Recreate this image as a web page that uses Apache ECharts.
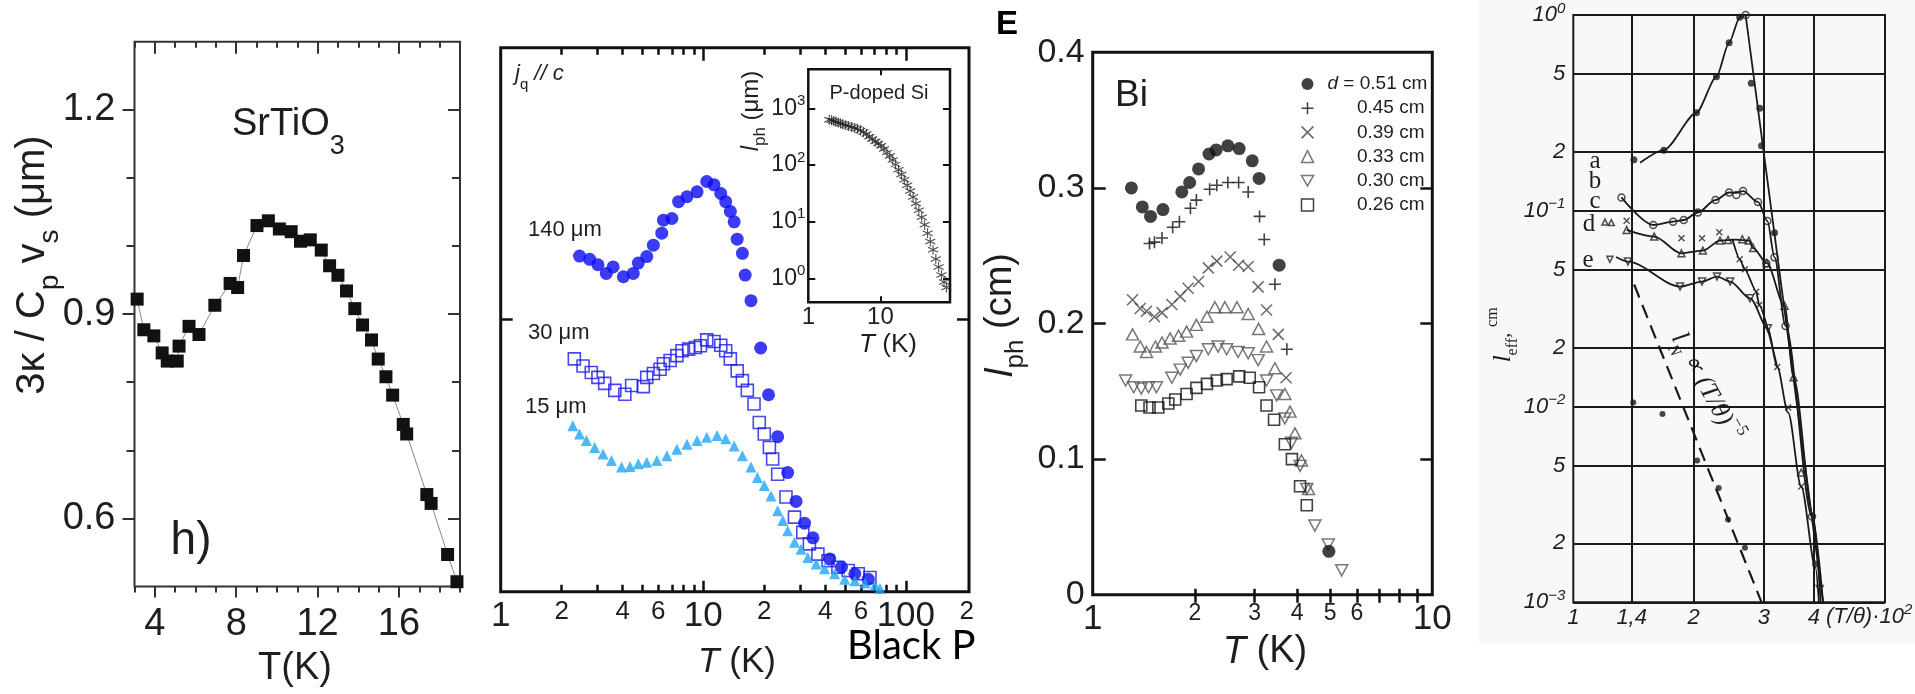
<!DOCTYPE html>
<html><head><meta charset="utf-8">
<script src="https://cdn.jsdelivr.net/npm/echarts@6.0.0/dist/echarts.min.js"></script>
<style>html,body{margin:0;padding:0;background:#fff}#c{width:1915px;height:694px}</style>
</head><body><div id="c"></div>
<script>
// ---------- Panel 1: SrTiO3 ----------
const p1T = [3.13,3.46,3.95,4.36,4.61,5.10,5.19,5.68,6.17,6.95,7.70,8.07,8.36,9.02,9.58,10.12,10.70,11.16,11.64,12.18,12.59,13.00,13.42,13.83,14.21,14.65,14.98,15.36,15.69,16.21,16.38,17.37,17.58,18.39,18.85];
const p1L = [0.922,0.877,0.868,0.843,0.831,0.831,0.853,0.882,0.870,0.913,0.945,0.939,0.986,1.030,1.037,1.025,1.021,1.007,1.009,0.994,0.971,0.957,0.934,0.908,0.884,0.862,0.834,0.808,0.781,0.738,0.724,0.635,0.622,0.547,0.507];
const p1XLabels = [4,8,12,16];
const p1XMinor = [3,5,6,7,9,10,11,13,14,15,17,18,19];
const p1YLabels = [0.6,0.9,1.2];
const p1YMinor = [0.7,0.8,1.0,1.1];

// ---------- Panel 2: Black P ----------
const bp140T = [2.45,2.75,3.02,3.32,3.59,4.03,4.51,4.78,5.26,5.67,6.24,6.36,7.00,7.55,8.31,9.32,10.4,11.3,12.2,12.9,13.6,14.2,14.7,15.6,16.1,17.2,19.2,21.0,23.3,26.1,28.7,31.6,34.8,42.1,48.1,56.0,65.2];
const bp140L = [0.617,0.611,0.601,0.585,0.597,0.579,0.585,0.604,0.616,0.637,0.659,0.683,0.686,0.717,0.726,0.735,0.754,0.748,0.732,0.717,0.699,0.680,0.648,0.622,0.582,0.535,0.448,0.362,0.285,0.219,0.166,0.126,0.099,0.060,0.045,0.033,0.023];
const bp30T = [2.31,2.55,2.80,3.02,3.26,3.66,4.10,4.43,5.06,5.26,5.67,6.12,6.36,6.86,7.41,7.85,8.47,9.14,9.68,10.4,11.3,12.2,12.9,13.6,14.7,15.6,16.5,17.8,18.9,20.0,21.2,22.0,23.3,25.6,28.2,31.0,33.4,36.8,41.3,46.2,51.9,58.2,66.5];
const bp30L = [0.428,0.415,0.403,0.394,0.383,0.370,0.363,0.379,0.377,0.394,0.401,0.409,0.419,0.425,0.434,0.443,0.446,0.449,0.452,0.463,0.460,0.453,0.443,0.428,0.406,0.388,0.370,0.345,0.311,0.290,0.265,0.244,0.216,0.174,0.137,0.109,0.088,0.069,0.057,0.045,0.039,0.033,0.026];
const bp15T = [2.27,2.45,2.65,2.91,3.20,3.52,3.95,4.35,4.78,5.26,5.90,6.61,7.41,8.31,9.32,10.4,11.7,12.9,14.2,15.6,17.2,18.5,20.0,21.6,23.3,24.7,26.1,28.2,30.4,32.8,36.1,39.7,44.5,49.9,56.0,62.8,70.4,74.5];
const bp15L = [0.305,0.290,0.278,0.265,0.253,0.241,0.229,0.230,0.235,0.238,0.241,0.250,0.262,0.271,0.278,0.284,0.287,0.281,0.268,0.250,0.229,0.210,0.195,0.176,0.149,0.131,0.112,0.091,0.078,0.063,0.051,0.042,0.033,0.023,0.020,0.016,0.012,0.006];
const p2XLabels = [1,2,4,6,10,20,40,60,100,200];
const p2XMajor = [10,100];
const p2XMinor = [2,3,4,5,6,7,8,9,20,30,40,50,60,70,80,90];
const p2YTicks = [0.5];

// ---------- Inset: P-doped Si ----------
const siT = [1.95,2.1,2.25,2.4,2.6,2.8,3.0,3.3,3.6,4.0,4.4,4.8,5.3,5.8,6.4,7.0,7.7,8.5,9.3,10.2,11.2,12.3,13.5,14.8,16.2,17.8,19.5,21.4,23.5,25.8,28.3,31.0,34.0,37.3,41.0,45.0,49.0,53.5,58.5,64.0,70.0,76.0,82.0];
const siL = [630,617,600,582,562,543,525,507,490,468,452,436,407,385,355,316,288,260,240,219,193,166,145,123,102,83,68,55,44,35,27.5,21,16,12,8.9,6.3,4.5,3.2,2.2,1.6,1.15,0.87,0.69];
const siXLabels = [1,10];
const siYLabels = [1,10,100,1000];

// ---------- Panel 3: Bi ----------
const bi051T = [1.30,1.40,1.48,1.61,1.83,1.93,2.05,2.20,2.31,2.50,2.70,2.95,3.09,3.54,4.96];
const bi051L = [0.300,0.286,0.279,0.284,0.297,0.304,0.314,0.325,0.328,0.331,0.329,0.320,0.307,0.243,0.032];
const bi045T = [1.47,1.52,1.60,1.72,1.80,1.94,2.02,2.21,2.32,2.50,2.69,2.87,3.10,3.20,3.44,3.73];
const bi045L = [0.259,0.260,0.263,0.271,0.275,0.285,0.291,0.299,0.302,0.304,0.304,0.297,0.279,0.262,0.229,0.181];
const bi039T = [1.31,1.38,1.44,1.52,1.60,1.71,1.81,1.91,2.05,2.19,2.32,2.54,2.69,2.87,3.07,3.25,3.52,3.71];
const bi039L = [0.2175,0.211,0.209,0.205,0.208,0.214,0.220,0.226,0.231,0.241,0.246,0.249,0.243,0.242,0.227,0.210,0.192,0.160];
const bi033T = [1.31,1.38,1.44,1.53,1.60,1.69,1.79,1.89,2.02,2.17,2.29,2.45,2.66,2.87,3.08,3.25,3.44,3.68,3.81,3.94,4.12,4.32];
const bi033L = [0.192,0.183,0.179,0.183,0.186,0.189,0.191,0.194,0.199,0.205,0.212,0.212,0.212,0.207,0.196,0.183,0.167,0.148,0.135,0.119,0.099,0.078];
const bi030T = [1.25,1.32,1.39,1.46,1.54,1.71,1.81,1.91,2.02,2.19,2.34,2.48,2.68,2.87,3.07,3.25,3.48,3.68,3.85,4.08,4.27,4.51,4.94,5.41];
const bi030L = [0.158,0.153,0.152,0.153,0.153,0.160,0.166,0.171,0.176,0.181,0.183,0.181,0.179,0.178,0.173,0.158,0.147,0.130,0.112,0.095,0.078,0.051,0.037,0.018];
const bi026T = [1.39,1.47,1.56,1.67,1.75,1.89,2.02,2.17,2.32,2.48,2.70,2.90,3.09,3.25,3.42,3.68,3.86,4.08,4.27];
const bi026L = [0.1395,0.138,0.138,0.141,0.144,0.148,0.1525,0.1555,0.158,0.159,0.161,0.160,0.153,0.1395,0.129,0.111,0.100,0.080,0.066];
const biNames = ['0.51 cm','0.45 cm','0.39 cm','0.33 cm','0.30 cm','0.26 cm'];
const p3XLabels = [1,2,3,4,5,6,10];
const p3XTicks = [2,3,4,5,6,7,8,9];
const p3YLabels = [0,0.1,0.2,0.3,0.4];
const p3YTicks = [0.1,0.2,0.3];

// ---------- Panel 4: l_eff vs T/theta ----------
const aRiseT = [1.47,1.685,2.034,2.282,2.455,2.61,2.70];
const aRiseL = [0.176,0.204,0.317,0.484,0.722,0.973,1.0];
const aFallT = [2.70,4.22];
const aFallL = [1.0,0.001];
const aDotT = [1.418,1.685,2.034,2.282,2.455,2.61,2.79,2.93,2.96,3.19,4.04];
const aDotL = [0.182,0.204,0.317,0.484,0.722,0.973,0.448,0.334,0.215,0.0773,0.00157];
const openT = [2.70,1.32,1.585,1.778,1.89,2.05,2.27,2.455,2.56,2.66,2.90,3.06,3.04,3.19,3.40,3.96];
const openL = [1.0,0.117,0.0846,0.088,0.0897,0.098,0.1135,0.124,0.1205,0.126,0.111,0.0887,0.054,0.0578,0.0258,0.00274];
const cLineT = [1.32,1.585,1.778,1.89,2.05,2.27,2.455,2.56,2.66,2.90,3.06,3.19,3.40,3.96,4.22];
const cLineL = [0.117,0.0846,0.088,0.0897,0.098,0.1135,0.124,0.1235,0.126,0.111,0.0887,0.0578,0.0258,0.00274,0.001];
const dTriT = [1.36,1.594,1.865,2.11,2.33,2.44,2.65,2.75,2.82,3.05,3.38,3.56,3.72];
const dTriL = [0.0798,0.0738,0.0606,0.0626,0.0704,0.071,0.0715,0.0704,0.0645,0.054,0.0327,0.0141,0.0046];
const dLineT = [1.36,1.594,1.865,2.11,2.33,2.55,2.75,2.82,3.05,3.38,3.56,3.98,4.16];
const dLineL = [0.0798,0.0738,0.0606,0.0626,0.0704,0.0712,0.0704,0.0645,0.054,0.0327,0.0141,0.0028,0.001];
const eTriT = [1.37,1.85,2.10,2.29,2.47,2.77,3.07,4.14];
const eTriL = [0.055,0.041,0.0435,0.0461,0.0435,0.0357,0.0251,0.00117];
const eLineT = [1.28,1.37,1.85,2.10,2.29,2.47,2.77,3.07,3.24,3.45,3.72,4.04,4.12];
const eLineL = [0.058,0.055,0.041,0.0435,0.0461,0.0435,0.0357,0.0251,0.0159,0.0093,0.0039,0.0015,0.001];
const xMarkT = [1.36,1.865,2.10,2.32,2.61,2.69,2.87,2.92,3.24,3.45,3.72];
const xMarkL = [0.089,0.0723,0.0723,0.0776,0.0565,0.0502,0.0386,0.033,0.0159,0.0099,0.0039];
const xLineT = [2.50,2.61,2.69,2.87,2.92,3.24];
const xLineL = [0.072,0.0565,0.0502,0.0386,0.033,0.0159];
const dashT = [1.42,2.96];
const dashL = [0.042,0.001];
const lowDotT = [1.413,1.672,2.042,2.312,2.44,2.69];
const lowDotL = [0.0105,0.00917,0.0053,0.00384,0.00265,0.0019];
const keyTriT = [1.20,1.245];
const keyTriL = [0.0875,0.0870];
const keyDownT = [1.235];
const keyDownL = [0.0565];
const p4XLabels = [1,1.4,2,3,4];
const p4XGrid = [1.4,2,3,4];
const p4YLabels = [0.001,0.002,0.005,0.01,0.02,0.05,0.1,0.2,0.5,1];
const p4CurveLabels = ['a','b','c','d','e'];

// ---------- helpers ----------
const F = '"Liberation Sans", Arial, sans-serif';
const FSERIF = '"Liberation Serif", "Times New Roman", serif';
const INK = '#1e1e1e';
const zip = (a, b) => a.map((v, i) => [v, b[i]]);
const PLUS = 'path://M0,-10L0,10M-10,0L10,0';
const CROSS = 'path://M-10,-10L10,10M-10,10L10,-10';
const DOWN = 'path://M0,0L20,0L10,17.3Z';
const STAR = 'path://M0,-10L0,10M-8.66,-5L8.66,5M-8.66,5L8.66,-5';
function tick(vals, len, inside, color, width) {
  return {show: true, inside: inside, length: len, customValues: vals, lineStyle: {color: color, width: width}};
}
function axis(o) {
  return Object.assign({axisLine: {show: false}, splitLine: {show: false}, axisLabel: {show: false}, axisTick: {show: false}}, o);
}
const supRich = (fs, sfs, lh, italic, fam) => ({
  b: {fontSize: fs, lineHeight: lh, fontFamily: fam || F, fontStyle: italic ? 'italic' : 'normal', color: INK},
  s: {fontSize: sfs, lineHeight: sfs, verticalAlign: 'top', fontFamily: fam || F, fontStyle: italic ? 'italic' : 'normal', color: INK}
});
const r3 = v => +(+v).toPrecision(3);

const xAxis = [
  // 0-3 panel 1
  axis({gridIndex: 0, type: 'value', position: 'bottom', min: 3, max: 19,
    axisTick: tick(p1XLabels, 11, false, '#333', 2),
    axisLabel: {show: true, customValues: p1XLabels, margin: 19, fontSize: 38, fontFamily: F, color: INK}}),
  axis({gridIndex: 0, type: 'value', position: 'bottom', min: 3, max: 19, axisTick: tick(p1XMinor, 6, false, '#333', 2)}),
  axis({gridIndex: 0, type: 'value', position: 'top', min: 3, max: 19, axisTick: tick(p1XLabels, 12, true, '#333', 2)}),
  axis({gridIndex: 0, type: 'value', position: 'top', min: 3, max: 19, axisTick: tick(p1XMinor, 6, true, '#333', 2)}),
  // 4-7 panel 2
  axis({gridIndex: 1, type: 'log', position: 'bottom', min: 1, max: 205,
    axisTick: tick(p2XMajor, 11, true, '#111', 2.5),
    axisLabel: {show: true, customValues: p2XLabels, margin: 7,
      formatter: v => { const r = Math.round(v); return (r === 1 || r === 10 || r === 100) ? '{M|' + r + '}' : '{m|' + String(r).charAt(0) + '}'; },
      rich: {M: {fontSize: 35, fontFamily: F, color: INK}, m: {fontSize: 26, fontFamily: F, color: INK}}}}),
  axis({gridIndex: 1, type: 'log', position: 'bottom', min: 1, max: 205, axisTick: tick(p2XMinor, 7, true, '#111', 2.5)}),
  axis({gridIndex: 1, type: 'log', position: 'top', min: 1, max: 205, axisTick: tick(p2XMajor, 13, true, '#111', 2.5)}),
  axis({gridIndex: 1, type: 'log', position: 'top', min: 1, max: 205, axisTick: tick(p2XMinor, 7, true, '#111', 2.5)}),
  // 8-9 inset
  axis({gridIndex: 2, type: 'log', position: 'bottom', min: 1, max: 92,
    axisTick: tick([10], 6, true, '#111', 2),
    axisLabel: {show: true, customValues: siXLabels, margin: 3, fontSize: 24, fontFamily: F, color: INK, formatter: v => String(Math.round(v))}}),
  axis({gridIndex: 2, type: 'log', position: 'top', min: 1, max: 92, axisTick: tick([10], 6, true, '#111', 2)}),
  // 10-11 panel 3
  axis({gridIndex: 3, type: 'log', position: 'bottom', min: 1, max: 10,
    axisTick: tick(p3XTicks, 6, true, '#111', 2.5),
    axisLabel: {show: true, customValues: p3XLabels, margin: 7,
      formatter: v => { const r = Math.round(v); return (r === 1 || r === 10) ? '{M|' + r + '}' : '{m|' + r + '}'; },
      rich: {M: {fontSize: 35, fontFamily: F, color: INK}, m: {fontSize: 23, fontFamily: F, color: INK}}}}),
  axis({gridIndex: 3, type: 'log', position: 'top', min: 1, max: 10, axisTick: tick(p3XTicks, 8, true, '#111', 2.5)}),
  // 12 panel 4
  axis({gridIndex: 4, type: 'log', position: 'bottom', min: 1, max: 6.03,
    axisTick: {show: false, customValues: p4XGrid},
    splitLine: {show: true, lineStyle: {color: '#1a1a1a', width: 2}},
    axisLabel: {show: true, customValues: p4XLabels, margin: 5, fontSize: 22, fontStyle: 'italic', fontFamily: F, color: INK,
      formatter: v => String(r3(v)).replace('.', ',')}})
];

const yAxis = [
  // 0-3 panel 1
  axis({gridIndex: 0, type: 'value', position: 'left', min: 0.5, max: 1.3,
    axisTick: tick(p1YLabels, 12, false, '#333', 2),
    axisLabel: {show: true, customValues: p1YLabels, margin: 19, fontSize: 38, fontFamily: F, color: INK, formatter: v => (+v).toFixed(1)}}),
  axis({gridIndex: 0, type: 'value', position: 'left', min: 0.5, max: 1.3, axisTick: tick(p1YMinor, 8, false, '#333', 2)}),
  axis({gridIndex: 0, type: 'value', position: 'right', min: 0.5, max: 1.3, axisTick: tick(p1YLabels, 12, true, '#333', 2)}),
  axis({gridIndex: 0, type: 'value', position: 'right', min: 0.5, max: 1.3, axisTick: tick(p1YMinor, 8, true, '#333', 2)}),
  // 4-5 panel 2
  axis({gridIndex: 1, type: 'value', position: 'left', min: 0, max: 1, axisTick: tick(p2YTicks, 12, true, '#111', 2.5)}),
  axis({gridIndex: 1, type: 'value', position: 'right', min: 0, max: 1, axisTick: tick(p2YTicks, 12, true, '#111', 2.5)}),
  // 6-7 inset
  axis({gridIndex: 2, type: 'log', position: 'left', min: 0.38, max: 4900,
    axisTick: tick(siYLabels, 7, true, '#111', 2),
    axisLabel: {show: true, customValues: siYLabels, margin: 3,
      formatter: v => '{b|10}{s|' + Math.round(Math.log10(v)) + '}', rich: supRich(23, 15, 30, false)}}),
  axis({gridIndex: 2, type: 'log', position: 'right', min: 0.38, max: 4900, axisTick: tick(siYLabels, 7, true, '#111', 2)}),
  // 8-9 panel 3
  axis({gridIndex: 3, type: 'value', position: 'left', min: 0, max: 0.4,
    axisTick: tick(p3YTicks, 13, true, '#111', 2.5),
    axisLabel: {show: true, customValues: p3YLabels, margin: 8, fontSize: 34, fontFamily: F, color: INK,
      formatter: v => (Math.abs(v) < 1e-9 ? '0' : (+v).toFixed(1))}}),
  axis({gridIndex: 3, type: 'value', position: 'right', min: 0, max: 0.4, axisTick: tick(p3YTicks, 12, true, '#111', 2.5)}),
  // 10 panel 4
  axis({gridIndex: 4, type: 'log', position: 'left', min: 0.001, max: 1,
    axisTick: {show: false, customValues: p4YLabels},
    splitLine: {show: true, lineStyle: {color: '#1a1a1a', width: 2}},
    axisLabel: {show: true, customValues: p4YLabels, margin: 8,
      formatter: v => {
        const e = Math.floor(Math.log10(v) + 1e-9);
        const m = Math.round(v / Math.pow(10, e));
        if (m === 1) return '{b|10}{s|' + (e === 0 ? '0' : '\u2212' + (-e)) + '}';
        return '{b|' + m + '}';
      },
      rich: supRich(22, 15, 28, true)}})
];

const grid = [
  {left: 134.5, top: 41.7, width: 325.5, height: 544.8, show: true, borderColor: '#333', borderWidth: 2, outerBoundsMode: 'none'},
  {left: 500.7, top: 47.7, width: 468.3, height: 544, show: true, borderColor: '#111', borderWidth: 3, outerBoundsMode: 'none'},
  {left: 808.3, top: 69.3, width: 141.7, height: 233, show: true, borderColor: '#111', borderWidth: 2.5, backgroundColor: '#fff', outerBoundsMode: 'none'},
  {left: 1092.7, top: 52.3, width: 339.6, height: 542.4, show: true, borderColor: '#111', borderWidth: 3, outerBoundsMode: 'none'},
  {left: 1573.3, top: 15, width: 311.7, height: 587.3, show: true, borderColor: '#1a1a1a', borderWidth: 2, outerBoundsMode: 'none'}
];

const p4Line = (t, l, extra) => Object.assign({type: 'line', xAxisIndex: 12, yAxisIndex: 10, data: zip(t, l), symbol: 'none',
  lineStyle: {color: '#1a1a1a', width: 1.8}, z: 3}, extra || {});
const p4Mark = (t, l, symbol, size, style, clip) => ({type: 'scatter', xAxisIndex: 12, yAxisIndex: 10, data: zip(t, l),
  symbol: symbol, symbolSize: size, itemStyle: style, z: 5, clip: clip !== false});
const openStyle = c => ({color: 'none', borderColor: c, borderWidth: 1.5});

const series = [
  // panel 1
  {type: 'line', xAxisIndex: 0, yAxisIndex: 0, data: zip(p1T, p1L), symbol: 'rect', symbolSize: 13,
    lineStyle: {color: '#8a8a8a', width: 1}, itemStyle: {color: '#111'}, z: 3},
  // panel 2
  {type: 'scatter', xAxisIndex: 4, yAxisIndex: 4, data: zip(bp140T, bp140L), symbol: 'circle', symbolSize: 13, itemStyle: {color: '#0a0af2'}, z: 3},
  {type: 'scatter', xAxisIndex: 4, yAxisIndex: 4, data: zip(bp30T, bp30L), symbol: 'rect', symbolSize: 12, itemStyle: {color: 'none', borderColor: '#1a1ae8', borderWidth: 1.6}, z: 4},
  {type: 'scatter', xAxisIndex: 4, yAxisIndex: 4, data: zip(bp15T, bp15L), symbol: 'triangle', symbolSize: 11, itemStyle: {color: '#1fa6f5'}, z: 5},
  // inset
  {type: 'scatter', xAxisIndex: 8, yAxisIndex: 6, data: zip(siT, siL), symbol: STAR, symbolSize: 10, itemStyle: {color: 'none', borderColor: '#222', borderWidth: 1.1}, z: 5},
  // panel 3
  {name: biNames[0], type: 'scatter', xAxisIndex: 10, yAxisIndex: 8, data: zip(bi051T, bi051L), symbol: 'circle', symbolSize: 13, itemStyle: {color: '#111'}, z: 6},
  {name: biNames[1], type: 'scatter', xAxisIndex: 10, yAxisIndex: 8, data: zip(bi045T, bi045L), symbol: PLUS, symbolSize: 12, itemStyle: {color: 'none', borderColor: '#111', borderWidth: 1.6}, z: 5},
  {name: biNames[2], type: 'scatter', xAxisIndex: 10, yAxisIndex: 8, data: zip(bi039T, bi039L), symbol: CROSS, symbolSize: 11, itemStyle: {color: 'none', borderColor: '#444', borderWidth: 1.5}, z: 5},
  {name: biNames[3], type: 'scatter', xAxisIndex: 10, yAxisIndex: 8, data: zip(bi033T, bi033L), symbol: 'triangle', symbolSize: [12, 11], itemStyle: {color: 'none', borderColor: '#555', borderWidth: 1.5}, z: 5},
  {name: biNames[4], type: 'scatter', xAxisIndex: 10, yAxisIndex: 8, data: zip(bi030T, bi030L), symbol: DOWN, symbolSize: [12, 11], itemStyle: {color: 'none', borderColor: '#555', borderWidth: 1.5}, z: 5},
  {name: biNames[5], type: 'scatter', xAxisIndex: 10, yAxisIndex: 8, data: zip(bi026T, bi026L), symbol: 'rect', symbolSize: 11, itemStyle: {color: 'none', borderColor: '#111', borderWidth: 1.6}, z: 5},
  // panel 4
  p4Line(aRiseT, aRiseL, {smooth: 0.25, smoothMonotone: 'x'}),
  p4Line(aFallT, aFallL),
  p4Line(cLineT, cLineL, {smooth: 0.3, smoothMonotone: 'x'}),
  p4Line(dLineT, dLineL, {smooth: 0.3, smoothMonotone: 'x'}),
  p4Line(eLineT, eLineL, {smooth: 0.3, smoothMonotone: 'x'}),
  p4Line(xLineT, xLineL, {smooth: 0.2, smoothMonotone: 'x'}),
  p4Line(dashT, dashL, {lineStyle: {color: '#1a1a1a', width: 2.2, type: [14, 8]}}),
  p4Mark(aDotT, aDotL, 'circle', 7, {color: '#1a1a1a'}),
  p4Mark(lowDotT, lowDotL, 'circle', 6, {color: '#1a1a1a'}),
  p4Mark(openT, openL, 'circle', 7, openStyle('#222'), false),
  p4Mark(dTriT, dTriL, 'triangle', 7, openStyle('#222')),
  p4Mark(eTriT, eTriL, DOWN, 7, openStyle('#222')),
  p4Mark(xMarkT, xMarkL, CROSS, 6, {color: 'none', borderColor: '#222', borderWidth: 1.4}),
  p4Mark(keyTriT, keyTriL, 'triangle', 6, openStyle('#222')),
  p4Mark(keyDownT, keyDownL, DOWN, 6, openStyle('#222'))
];

const T = (x, y, text, o) => Object.assign({type: 'text', x: x, y: y, z: 20,
  style: Object.assign({text: text, fill: INK, font: '22px ' + F, align: 'center', verticalAlign: 'middle',
    textAlign: 'center', textVerticalAlign: 'middle'}, (o && o.style) || {})}, o ? {rotation: o.rotation || 0} : {});

const graphic = [
  {type: 'rect', z: -10, shape: {x: 1478, y: 0, width: 437, height: 643}, style: {fill: '#f8f8f8'}},
  // panel 1
  T(33, 265, '{n|3\u03ba / C}{s|p}{n| v}{s|s}{n| (\u03bcm)}', {rotation: Math.PI / 2, style: {rich: {
    n: {fontSize: 40, lineHeight: 62, fontFamily: F, fill: INK}, s: {fontSize: 28, lineHeight: 28, verticalAlign: 'bottom', fontFamily: F, fill: INK}}}}),
  T(232, 125, '{n|SrTiO}{s|3}', {style: {align: 'left', textAlign: 'left', rich: {
    n: {fontSize: 38, lineHeight: 70, fontFamily: F, fill: INK}, s: {fontSize: 27, lineHeight: 27, verticalAlign: 'bottom', fontFamily: F, fill: INK}}}}),
  T(191, 541, 'h)', {style: {font: '46px ' + F}}),
  T(295, 669, 'T(K)', {style: {font: '38px ' + F}}),
  // panel 2
  T(515, 74, '{i|j}{q|q}{i| // c}', {style: {align: 'left', textAlign: 'left', rich: {
    i: {fontSize: 22, lineHeight: 36, fontStyle: 'italic', fontFamily: F, fill: INK}, q: {fontSize: 15, lineHeight: 16, verticalAlign: 'bottom', fontFamily: F, fill: INK}}}}),
  T(528, 230, '140 \u03bcm', {style: {align: 'left', textAlign: 'left', font: '22px ' + F}}),
  T(528, 333, '30 \u03bcm', {style: {align: 'left', textAlign: 'left', font: '22px ' + F}}),
  T(525, 407, '15 \u03bcm', {style: {align: 'left', textAlign: 'left', font: '22px ' + F}}),
  T(737, 662, '{i|T}{n| (K)}', {style: {rich: {i: {fontSize: 35, fontStyle: 'italic', fontFamily: F, fill: INK}, n: {fontSize: 35, fontFamily: F, fill: INK}}}}),
  T(847, 646, 'Black P', {style: {align: 'left', textAlign: 'left', font: '40px Lato, "Open Sans", sans-serif', fill: '#000'}}),
  T(879, 93, 'P-doped Si', {style: {font: '20px ' + F}}),
  T(888, 345, '{i|T}{n| (K)}', {style: {rich: {i: {fontSize: 26, fontStyle: 'italic', fontFamily: F, fill: INK}, n: {fontSize: 26, fontFamily: F, fill: INK}}}}),
  T(751, 111, '{i|l}{s|ph}{n| (\u03bcm)}', {rotation: Math.PI / 2, style: {rich: {
    i: {fontSize: 24, lineHeight: 36, fontStyle: 'italic', fontFamily: F, fill: INK}, s: {fontSize: 17, lineHeight: 17, verticalAlign: 'bottom', fontFamily: F, fill: INK},
    n: {fontSize: 24, lineHeight: 36, fontFamily: F, fill: INK}}}}),
  // panel 3
  T(1007, 25, 'E', {style: {font: 'bold 33px ' + F, fill: '#000'}}),
  T(1115, 96, 'Bi', {style: {align: 'left', textAlign: 'left', font: '37px ' + F}}),
  T(1265, 652, '{i|T}{n| (K)}', {style: {rich: {i: {fontSize: 38, fontStyle: 'italic', fontFamily: F, fill: INK}, n: {fontSize: 38, fontFamily: F, fill: INK}}}}),
  T(1001, 315, '{i|l}{s|ph}{n| (cm)}', {rotation: Math.PI / 2, style: {rich: {
    i: {fontSize: 38, lineHeight: 56, fontStyle: 'italic', fontFamily: F, fill: INK}, s: {fontSize: 26, lineHeight: 26, verticalAlign: 'bottom', fontFamily: F, fill: INK},
    n: {fontSize: 38, lineHeight: 56, fontFamily: F, fill: INK}}}}),
  // panel 4
  T(1503, 335, '{i|l}{s|eff}{n|, }{u|cm}', {rotation: Math.PI / 2, style: {rich: {
    i: {fontSize: 26, lineHeight: 36, fontStyle: 'italic', fontFamily: FSERIF, fill: INK}, s: {fontSize: 16, lineHeight: 16, verticalAlign: 'bottom', fontFamily: FSERIF, fill: INK},
    n: {fontSize: 22, lineHeight: 36, fontFamily: FSERIF, fill: INK}, u: {fontSize: 16, lineHeight: 16, verticalAlign: 'top', fontFamily: FSERIF, fill: INK}}}}),
  T(1595, 161, p4CurveLabels[0], {style: {font: '25px ' + FSERIF}}),
  T(1595, 181, p4CurveLabels[1], {style: {font: '25px ' + FSERIF}}),
  T(1595, 201, p4CurveLabels[2], {style: {font: '25px ' + FSERIF}}),
  T(1589, 224, p4CurveLabels[3], {style: {font: '25px ' + FSERIF}}),
  T(1588, 260, p4CurveLabels[4], {style: {font: '25px ' + FSERIF}}),
  T(1826, 617, '{n|(T/\u03b8)\u00b710}{s|2}', {style: {align: 'left', textAlign: 'left', rich: {
    n: {fontSize: 22, lineHeight: 30, fontStyle: 'italic', fontFamily: F, fill: INK}, s: {fontSize: 15, lineHeight: 15, verticalAlign: 'top', fontStyle: 'italic', fontFamily: F, fill: INK}}}}),
  T(1706, 387, '{i|l}{s|N}{n| \u221d (T/\u03b8)}{u|\u22125}', {rotation: -1.07, style: {rich: {
    i: {fontSize: 26, lineHeight: 38, fontStyle: 'italic', fontFamily: FSERIF, fill: INK}, s: {fontSize: 16, lineHeight: 16, verticalAlign: 'bottom', fontStyle: 'italic', fontFamily: FSERIF, fill: INK},
    n: {fontSize: 26, lineHeight: 38, fontStyle: 'italic', fontFamily: FSERIF, fill: INK}, u: {fontSize: 17, lineHeight: 17, verticalAlign: 'top', fontFamily: FSERIF, fill: INK}}}})
];

const chart = echarts.init(document.getElementById('c'), null, {renderer: 'canvas'});
chart.setOption({
  backgroundColor: '#fff',
  animation: false,
  grid: grid, xAxis: xAxis, yAxis: yAxis, series: series, graphic: graphic,
  legend: {
    data: biNames, orient: 'vertical', left: 1294, top: 69, itemWidth: 12, itemHeight: 12, itemGap: 4.2,
    selectedMode: false, itemStyle: {borderWidth: 1.5},
    textStyle: {fontFamily: F, fontSize: 19, color: INK, lineHeight: 20, rich: {
      i: {fontFamily: F, fontSize: 19, fontStyle: 'italic', lineHeight: 20, color: INK, padding: [0, 0, 0, 9]},
      n: {fontFamily: F, fontSize: 19, lineHeight: 20, color: INK},
      r: {fontFamily: F, fontSize: 19, lineHeight: 20, color: INK, width: 106, align: 'right'}}},
    formatter: n => n === biNames[0] ? '{i|d}{n| = 0.51 cm}' : '{r|' + n + '}'
  }
});
</script></body></html>
